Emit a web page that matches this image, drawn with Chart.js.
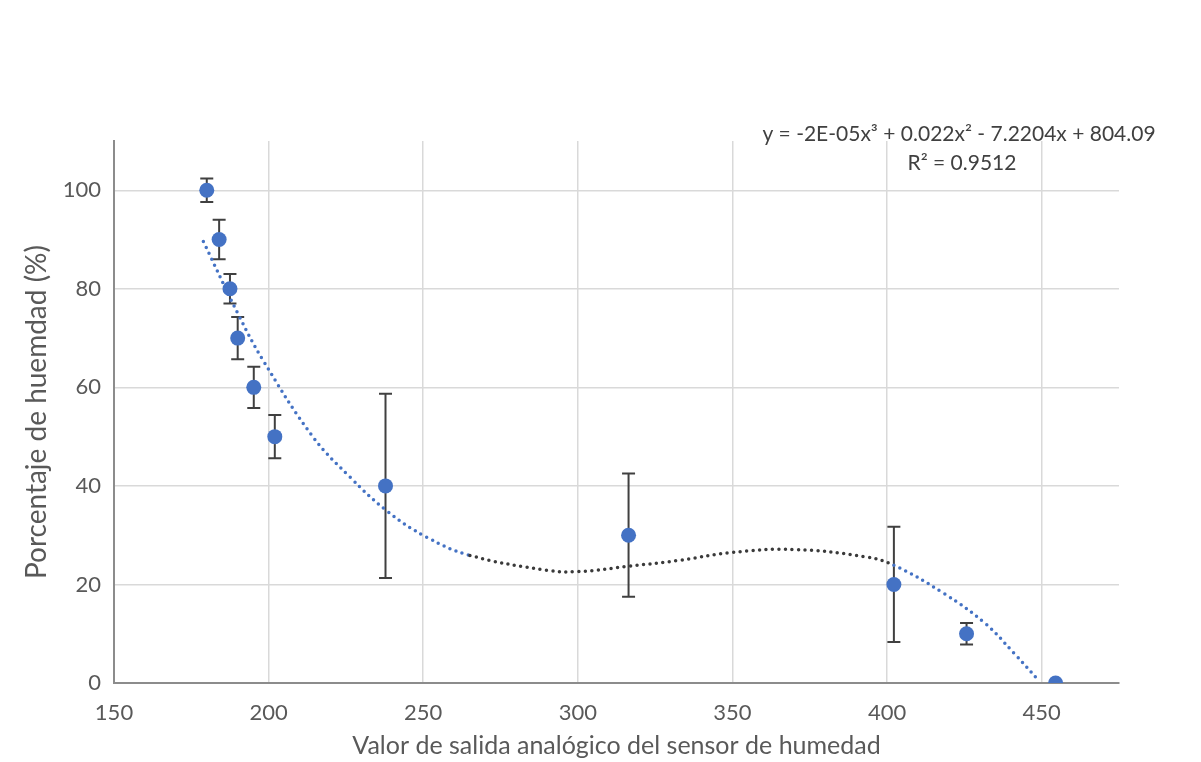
<!DOCTYPE html>
<html>
<head>
<meta charset="utf-8">
<script src="https://cdn.jsdelivr.net/npm/chart.js@4.4.1/dist/chart.umd.min.js"></script>
<style>
  html, body { margin: 0; padding: 0; background: #ffffff; }
  #wrap { width: 1201px; height: 762px; }
</style>
</head>
<body>
<div id="wrap"><canvas id="c" width="1201" height="762"></canvas></div>
<script>
// Measured data (sensor analog output vs. humidity %)
const sensorValues = [180, 184, 187.5, 190, 195.2, 202, 237.8, 316.4, 402.2, 425.7, 454.5];
const humidityPct  = [100, 90, 80, 70, 60, 50, 40, 30, 20, 10, 0];
const errorPct     = [2.4, 4.0, 3.0, 4.3, 4.2, 4.4, 18.7, 12.5, 11.7, 2.2, 0];

// Polynomial trendline
const trendX = [178.9, 190.2, 198.3, 214.4, 226.3, 238.1, 251.1, 265.1, 289.9, 300, 316.4, 333, 349.9, 370.0, 392.9, 402.2, 418.3, 431.7, 441.1, 449.2];
const trendY = [89.6, 74.8, 65.4, 49.9, 41.8, 35.0, 29.6, 25.9, 22.9, 22.6, 23.7, 24.9, 26.5, 27.1, 25.6, 23.9, 18.2, 12.1, 6.0, 0.4];

const xTicks = [150, 200, 250, 300, 350, 400, 450];
const yTicks = [0, 20, 40, 60, 80, 100];

const equationText = 'y = -2E-05x³ + 0.022x² - 7.2204x + 804.09';
const r2Text = 'R² = 0.9512';

const BLUE = '#4472C4';
const DARK = '#404040';
const FONT = 'Lato, "Open Sans", "Liberation Sans", sans-serif';

const errorBarPlugin = {
  id: 'errorBars',
  beforeDatasetDraw(chart, args) {
    if (args.index !== 0) return;
    const ctx = chart.ctx;
    const xs = chart.scales.x, ys = chart.scales.y;
    ctx.save();
    ctx.strokeStyle = DARK;
    ctx.lineWidth = 2;
    for (let i = 0; i < sensorValues.length; i++) {
      const e = errorPct[i];
      if (!e) continue;
      const px = xs.getPixelForValue(sensorValues[i]);
      const top = ys.getPixelForValue(humidityPct[i] + e);
      const bot = ys.getPixelForValue(humidityPct[i] - e);
      ctx.beginPath();
      ctx.moveTo(px, top); ctx.lineTo(px, bot);
      ctx.moveTo(px - 6.5, top); ctx.lineTo(px + 6.5, top);
      ctx.moveTo(px - 6.5, bot); ctx.lineTo(px + 6.5, bot);
      ctx.stroke();
    }
    ctx.restore();
  }
};

const equationPlugin = {
  id: 'equation',
  afterDraw(chart) {
    const ctx = chart.ctx;
    ctx.save();
    ctx.fillStyle = '#404040';
    ctx.font = '21px ' + FONT;
    ctx.textAlign = 'center';
    ctx.textBaseline = 'middle';
    ctx.fillText(equationText, 959, 134);
    ctx.fillText(r2Text, 962, 163);
    ctx.restore();
  }
};

new Chart(document.getElementById('c'), {
  type: 'scatter',
  data: {
    datasets: [
      {
        label: 'Datos',
        data: sensorValues.map((x, i) => ({ x: x, y: humidityPct[i] })),
        backgroundColor: BLUE,
        borderColor: BLUE,
        pointRadius: 7.5,
        pointHoverRadius: 7.5,
        borderWidth: 0,
        order: 1
      },
      {
        label: 'Tendencia',
        type: 'line',
        data: trendX.map((x, i) => ({ x: x, y: trendY[i] })),
        showLine: true,
        fill: false,
        borderColor: BLUE,
        borderWidth: 3.5,
        borderDash: [0, 6.5],
        borderCapStyle: 'round',
        pointRadius: 0,
        tension: 0.4,
        segment: {
          borderColor: c => (c.p0.parsed.x >= 265 && c.p1.parsed.x <= 403) ? '#3a3a3a' : BLUE
        },
        order: 0
      }
    ]
  },
  options: {
    responsive: false,
    animation: false,
    events: [],
    layout: { padding: { left: 0, right: 82, top: 141, bottom: 0 } },
    plugins: { legend: { display: false }, tooltip: { enabled: false } },
    scales: {
      x: {
        type: 'linear',
        min: 150, max: 475,
        afterBuildTicks: s => { s.ticks = xTicks.map(v => ({ value: v })); },
        afterFit: s => { s.height = 79; },
        grid: { color: '#d9d9d9', lineWidth: 1.5, drawTicks: false },
        border: { color: '#8c8c8c', width: 2 },
        ticks: { color: '#595959', font: { family: FONT, size: 22 }, padding: 17, maxRotation: 0 },
        title: { display: true, text: 'Valor de salida analógico del sensor de humedad', color: '#595959',
                 font: { family: FONT, size: 25 }, padding: { top: 0, bottom: 1 } }
      },
      y: {
        type: 'linear',
        min: 0, max: 110,
        afterBuildTicks: s => { s.ticks = yTicks.map(v => ({ value: v })); },
        afterFit: s => { s.width = 114; },
        grid: { color: '#d9d9d9', lineWidth: 1.5, drawTicks: false },
        border: { color: '#8c8c8c', width: 2 },
        ticks: { color: '#595959', font: { family: FONT, size: 22 }, padding: 13 },
        title: { display: true, text: 'Porcentaje de huemdad (%)', color: '#595959',
                 font: { family: FONT, size: 28 }, padding: { top: 20, bottom: 0 } }
      }
    }
  },
  plugins: [errorBarPlugin, equationPlugin]
});
</script>
</body>
</html>
